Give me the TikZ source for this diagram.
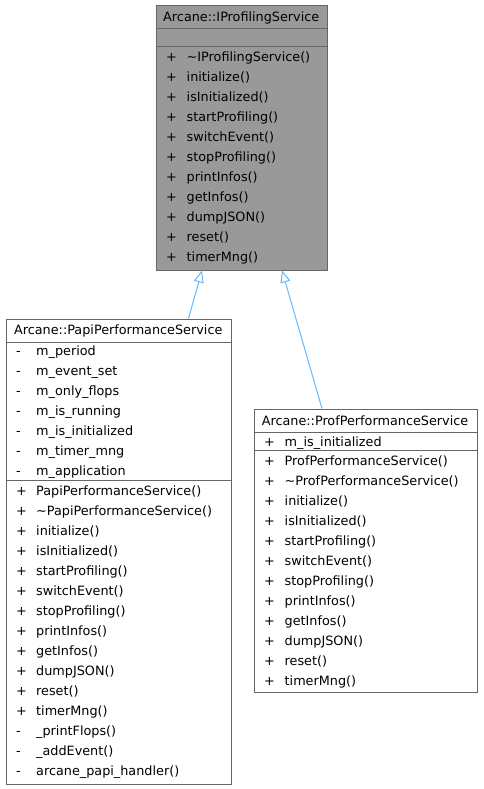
\documentclass[tikz,border=0pt]{standalone}
\usepackage{fontspec}
\setmainfont{DejaVu Sans}
\usetikzlibrary{arrows.meta}
\definecolor{edgeblue}{HTML}{63B8FF}
\definecolor{bord}{HTML}{666666}
\definecolor{hl}{HTML}{999999}
\begin{document}
\begin{tikzpicture}[x=1pt,y=-1pt,
  font=\fontsize{12.8}{15}\selectfont,
  box/.style={draw=bord, line width=1pt, inner sep=0pt, anchor=north west},
  sepline/.style={draw=bord, line width=1pt},
  lbl/.style={anchor=base west, inner sep=0pt},
  ttl/.style={anchor=base, inner sep=0pt},
  inh/.style={draw=edgeblue, line width=1pt, {Triangle[open, length=12pt, width=10pt, fill=white]}-}]
\useasboundingbox (0,0) rectangle (483,789);

% ---------- IProfilingService ----------
\node[box, fill=hl, minimum width=171.5pt, minimum height=265pt] (ips) at (155.5,5) {};
\draw[sepline] (155.5,28.5) -- (327,28.5);
\draw[sepline] (155.5,46.7) -- (327,46.7);
\node[ttl] (ipst) at (241.25,21.4) {Arcane::IProfilingService};
\foreach \t [count=\i from 0] in {\textasciitilde IProfilingService(),initialize(),isInitialized(),startProfiling(),switchEvent(),stopProfiling(),printInfos(),getInfos(),dumpJSON(),reset(),timerMng()}{
  \node[lbl] (ipsv\i) at (166,{61.8+20*\i}) {+};
  \node[lbl] (ipsm\i) at (186.5,{61.8+20*\i}) {\t};
}

% ---------- PapiPerformanceService ----------
\node[box, fill=white, minimum width=225.5pt, minimum height=465pt] (papi) at (5.5,318.5) {};
\draw[sepline] (5.5,342) -- (231,342);
\draw[sepline] (5.5,480) -- (231,480);
\node[ttl] (papit) at (118.25,334.9) {Arcane::PapiPerformanceService};
\foreach \t [count=\i from 0] in {m\_period,m\_event\_set,m\_only\_flops,m\_is\_running,m\_is\_initialized,m\_timer\_mng,m\_application}{
  \node[lbl] (papiav\i) at (16,{355.1+20*\i}) {-};
  \node[lbl] (papia\i) at (36,{355.1+20*\i}) {\t};
}
\foreach \t [count=\i from 0] in {PapiPerformanceService(),\textasciitilde PapiPerformanceService(),initialize(),isInitialized(),startProfiling(),switchEvent(),stopProfiling(),printInfos(),getInfos(),dumpJSON(),reset(),timerMng()}{
  \node[lbl] (papimv\i) at (16,{495.1+20*\i}) {+};
  \node[lbl] (papim\i) at (36,{495.1+20*\i}) {\t};
}
\foreach \t [count=\i from 12] in {\_printFlops(),\_addEvent(),arcane\_papi\_handler()}{
  \node[lbl] (papimv\i) at (16,{495.1+20*\i}) {-};
  \node[lbl] (papim\i) at (36,{495.1+20*\i}) {\t};
}

% ---------- ProfPerformanceService ----------
\node[box, fill=white, minimum width=223pt, minimum height=283.5pt] (prof) at (253.5,408.5) {};
\draw[sepline] (253.5,432.7) -- (476.5,432.7);
\draw[sepline] (253.5,450.7) -- (476.5,450.7);
\node[ttl] (proft) at (365,425.2) {Arcane::ProfPerformanceService};
\node[lbl] (profav0) at (264,446.1) {+};
\node[lbl] (profa0) at (284.5,446.1) {m\_is\_initialized};
\foreach \t [count=\i from 0] in {ProfPerformanceService(),\textasciitilde ProfPerformanceService(),initialize(),isInitialized(),startProfiling(),switchEvent(),stopProfiling(),printInfos(),getInfos(),dumpJSON(),reset(),timerMng()}{
  \node[lbl] (profmv\i) at (264,{465.8+20*\i}) {+};
  \node[lbl] (profm\i) at (284.5,{465.8+20*\i}) {\t};
}

% ---------- inheritance ----------
\coordinate (a1e) at (202,270.5);
\coordinate (a1s) at (188.5,318.5);
\coordinate (a2e) at (282,270.5);
\coordinate (a2s) at (322,408.5);
\draw[inh] (a1e) -- (a1s);
\draw[inh] (a2e) -- (a2s);
\end{tikzpicture}
\end{document}
